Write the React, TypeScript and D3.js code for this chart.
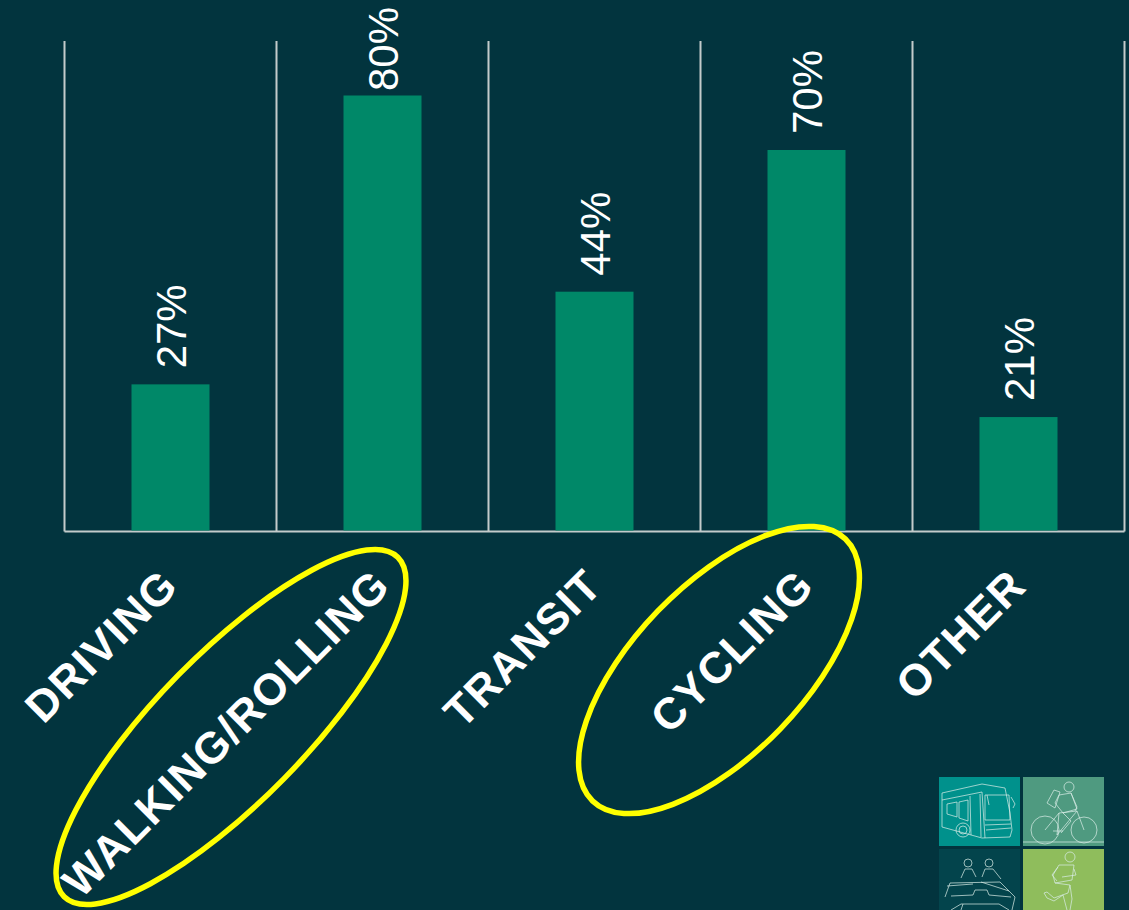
import React from "react";
import * as d3 from "d3";

// Share of respondents by travel mode
const modes = ["DRIVING", "WALKING/ROLLING", "TRANSIT", "CYCLING", "OTHER"];
const shares = [27, 80, 44, 70, 21];
const highlightedModes = ["WALKING/ROLLING", "CYCLING"];

const WIDTH = 1129;
const HEIGHT = 910;
const BG = "#02343e";
const BAR = "#008868";
const RULE = "#c3cbcb";
const FONT = "'Liberation Sans', Arial, sans-serif";

const x = d3.scaleBand<string>().domain(modes).range([64.5, 1124.5]);
const y = d3.scaleLinear().domain([0, 90]).range([531.5, 41]);
const barWidth = x.bandwidth() * 0.368;

// Ring drawn around each highlighted axis label
const rings: Record<string, { cx: number; cy: number; rx: number; ry: number; angle: number }> = {
  "WALKING/ROLLING": { cx: 231, cy: 727, rx: 238, ry: 74, angle: -45.5 },
  CYCLING: { cx: 719, cy: 670, rx: 182, ry: 85, angle: -46 },
};

const tiles = [
  { x: 939, y: 777, w: 81, h: 69, fill: "#00918c" },
  { x: 1023, y: 777, w: 81, h: 69, fill: "#4f9a80" },
  { x: 939, y: 849, w: 81, h: 61, fill: "#03444c" },
  { x: 1023, y: 849, w: 81, h: 61, fill: "#8fbd5c" },
];

// Full circle as a path segment
const disc = (cx: number, cy: number, r: number) => {
  const p = d3.path();
  p.moveTo(cx + r, cy);
  p.arc(cx, cy, r, 0, Math.PI * 2);
  return p.toString();
};

// Outline sketches, in local coordinates of each tile
const busSketch = [
  "M3 16 L43 7 L66 11 L71 36 L73 53 L71 60 L43 61 L3 50 Z",
  "M3 23 L43 15 L46 61 M31 19 L32 58 M41 17 L42 60",
  "M8 27 L18 25 L18 40 L8 37 Z M20 25 L29 23 L29 44 L20 41 Z",
  "M46 18 L70 18 L71 43 L46 43 Z M46 48 L72 47 M47 53 L72 51",
  disc(24, 53, 7),
  disc(24, 53, 4),
  "M48 18 L50 28 M72 20 L76 27 L74 31",
];
const cyclistSketch = [
  disc(22, 53, 14),
  disc(61, 53, 13),
  "M22 53 L36 36 L54 34 L61 53 M36 36 L34 58 L54 34 M30 54 L40 54",
  disc(46, 10, 5),
  "M36 18 L48 16 L54 32 L40 36 L32 26 Z",
  "M24 26 L31 13 L37 15 L32 31 Z",
  "M48 16 L54 30 L52 34 M40 36 L48 44 L38 56",
  "M0 65 L81 65",
];
const vehicleSketch = [
  disc(29, 14, 4),
  disc(50, 14, 4),
  "M22 29 L26 20 L33 20 L37 28 M43 28 L46 20 L54 20 L62 30",
  "M6 48 L11 34 L61 33 L76 48 L73 61",
  "M8 37 L34 35 M42 33 L70 42 M12 47 L34 46 L36 41 L48 41 L50 46 L72 48",
  "M12 61 L22 55 L60 55 L70 61 M24 55 L22 61",
];
const runnerSketch = [
  disc(47, 8, 5),
  "M36 16 L51 16 L49 31 L32 34 L30 26 Z",
  "M51 20 L53 26 L39 28 M35 18 L29 26 L34 32",
  "M32 34 L47 36 L45 44 L31 49 L24 43 L21 44 L24 49 L31 52 L40 46 L44 61",
  "M47 36 L49 50 L47 61",
];
const sketches = [busSketch, cyclistSketch, vehicleSketch, runnerSketch];

export default function App() {
  return (
    <svg
      width={WIDTH}
      height={HEIGHT}
      viewBox={`0 0 ${WIDTH} ${HEIGHT}`}
      style={{ position: "fixed", left: 0, top: 0, display: "block" }}
    >
      <rect width={WIDTH} height={HEIGHT} fill={BG} />

      {/* Category separators and baseline */}
      {[...modes.map((m) => x(m) as number), x.range()[1]].map((px) => (
        <line key={px} x1={px} x2={px} y1={y(90)} y2={y(0)} stroke={RULE} strokeWidth={2} />
      ))}
      <line x1={x.range()[0]} x2={x.range()[1]} y1={y(0)} y2={y(0)} stroke={RULE} strokeWidth={2} />

      {/* Bars */}
      {modes.map((m, i) => (
        <rect
          key={m}
          x={(x(m) as number) + (x.bandwidth() - barWidth) / 2}
          y={y(shares[i])}
          width={barWidth}
          height={y(0) - y(shares[i]) - 1}
          fill={BAR}
        />
      ))}

      {/* Value labels, read upward; kept inside the plot top */}
      {modes.map((m, i) => {
        const cx = (x(m) as number) + x.bandwidth() / 2;
        const anchorY = Math.max(y(shares[i]) - 16, 91);
        return (
          <text
            key={m}
            transform={`translate(${cx + 15},${anchorY}) rotate(-90)`}
            fontFamily={FONT}
            fontSize={42}
            fill="#ffffff"
          >
            {shares[i]}%
          </text>
        );
      })}

      {/* Axis labels */}
      {modes.map((m) => {
        const cx = (x(m) as number) + x.bandwidth() / 2;
        return (
          <text
            key={m}
            transform={`translate(${cx + 10},${588}) rotate(-45)`}
            textAnchor="end"
            fontFamily={FONT}
            fontWeight={700}
            fontSize={44}
            letterSpacing={1.5}
            fill="#ffffff"
          >
            {m}
          </text>
        );
      })}

      {/* Highlight rings */}
      {highlightedModes.map((m) => {
        const r = rings[m];
        return (
          <ellipse
            key={m}
            cx={r.cx}
            cy={r.cy}
            rx={r.rx}
            ry={r.ry}
            transform={`rotate(${r.angle} ${r.cx} ${r.cy})`}
            fill="none"
            stroke="#ffff00"
            strokeWidth={5.5}
          />
        );
      })}

      {/* Travel-mode tiles */}
      {tiles.map((t, i) => (
        <g key={i} transform={`translate(${t.x},${t.y})`}>
          <rect width={t.w} height={t.h} fill={t.fill} />
          {sketches[i].map((d, j) => (
            <path key={j} d={d} fill="none" stroke="#d8ece6" strokeWidth={0.8} opacity={0.9} />
          ))}
        </g>
      ))}
    </svg>
  );
}
